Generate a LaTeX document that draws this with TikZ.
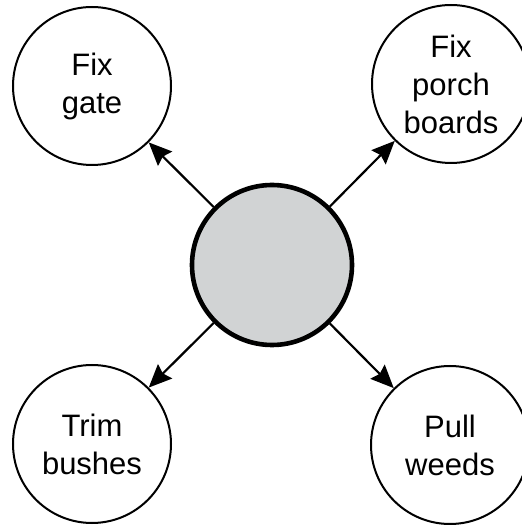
\documentclass[tikz,border=0pt]{standalone}
\usepackage{fontspec}
\setmainfont{Liberation Sans}
\usetikzlibrary{arrows.meta}
\definecolor{hubgray}{RGB}{209,211,212}
\tikzset{
  task/.style={circle, draw, line width=1pt, minimum size=79pt, inner sep=0pt,
    align=center, font=\fontsize{15.5}{19}\selectfont},
  hub/.style={circle, draw, line width=2.3pt, fill=hubgray, minimum size=80pt},
  link/.style={-{Stealth[length=11.5pt,width=10pt,inset=1.5pt]}, line width=1.1pt}
}
\begin{document}
\begin{tikzpicture}[x=0.5pt,y=0.5pt]
    \useasboundingbox (0,0) rectangle (522,525);
    \node[hub] (h) at (272,260) {};
    \node[task] (g) at (92,439) {Fix\\gate};
    \node[task] (p) at (451,441) {Fix\\porch\\boards};
    \node[task] (b) at (92,81) {Trim\\bushes};
    \node[task] (w) at (450,80) {Pull\\weeds};
    \draw [link] (h) -- (g);
    \draw [link] (h) -- (p);
    \draw [link] (h) -- (b);
    \draw [link] (h) -- (w);
  \end{tikzpicture}
\end{document}
